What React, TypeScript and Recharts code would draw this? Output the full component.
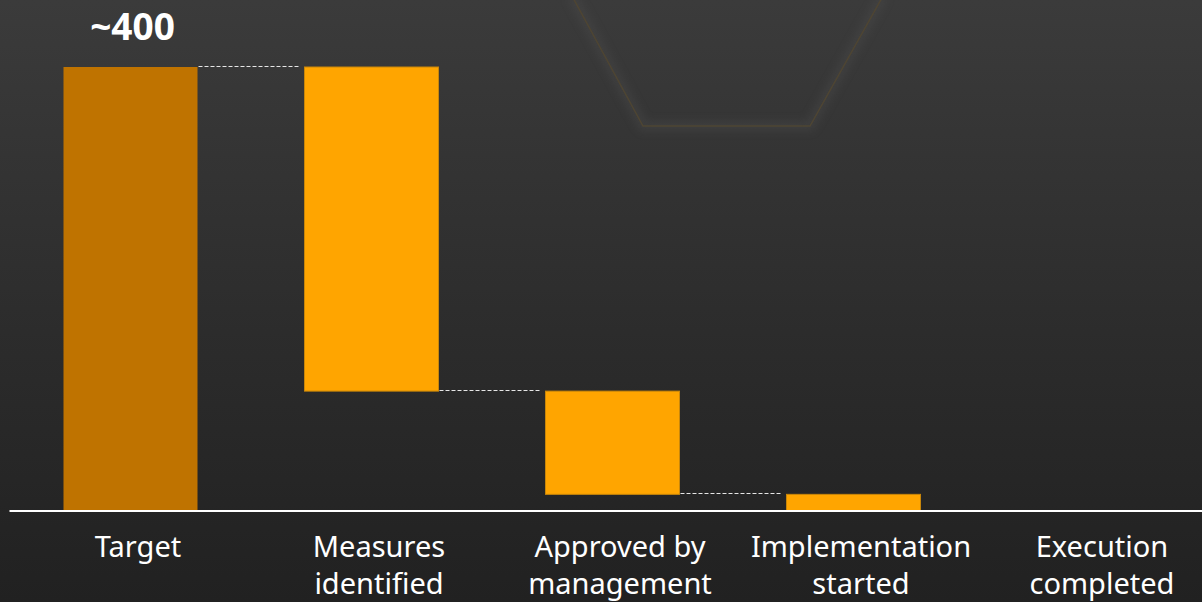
import React from 'react';
import { BarChart, Bar, XAxis, YAxis, LabelList } from 'recharts';

// ---- data ----
const categories = [
  'Target',
  'Measures\nidentified',
  'Approved by\nmanagement',
  'Implementation\nstarted',
  'Execution\ncompleted',
];
const barStart: (number | null)[] = [400, 400, 108, 15, null];
const barEnd: (number | null)[] = [0, 108, 15, 0, null];
const valueLabels = ['~400', '', '', '', ''];
const yTicks = [0, 400];

// ---- styles ----
const BAR_COLORS = ['#BF7300', '#FFA500', '#FFA500', '#FFA500', '#FFA500'];
const BAR_STROKES = ['none', '#C8860A', '#C8860A', '#C8860A', '#C8860A'];
const BAND = 241;
const BAR_SIZE = 134;
const FONT = '"Noto Sans", "Open Sans", sans-serif';

const data = categories.map((name, i) => ({
  name,
  range: barStart[i] == null ? null : [barEnd[i] as number, barStart[i] as number],
  next: i + 1 < barStart.length ? barStart[i + 1] : null,
  label: valueLabels[i],
}));

const WaterfallShape = (props: any) => {
  const { x, y, width, height, index, payload } = props;
  if (!payload || payload.range == null) return null;
  const top = Math.min(y, y + height);
  const h = Math.abs(height);
  const [low, high] = payload.range;
  let connector = null;
  if (payload.next != null && high !== low) {
    const lvl = Math.round(top + (h * (high - payload.next)) / (high - low)) - 0.5;
    connector = (
      <line
        x1={x + width + 1}
        x2={x + width + (BAND - width) - 6}
        y1={lvl}
        y2={lvl}
        stroke="#e6e6e6"
        strokeWidth={1}
        strokeDasharray="4 2"
      />
    );
  }
  return (
    <g>
      <rect
        x={x}
        y={top}
        width={width}
        height={h}
        fill={BAR_COLORS[index]}
        stroke={BAR_STROKES[index]}
        strokeWidth={1}
      />
      {connector}
    </g>
  );
};

const ValueLabel = (props: any) => {
  const { x, y, width, height, value } = props;
  if (!value) return null;
  const top = Math.min(y, y + height);
  return (
    <text
      x={x + width / 2 + 2}
      y={top - 27}
      textAnchor="middle"
      fill="#ffffff"
      fontFamily={FONT}
      fontWeight={700}
      fontSize={37}
    >
      {value}
    </text>
  );
};

const CategoryTick = (props: any) => {
  const { x, y, payload } = props;
  const lines = String(payload.value).split('\n');
  return (
    <text
      x={x + 8}
      y={y}
      textAnchor="middle"
      fill="#ffffff"
      fontFamily={FONT}
      fontSize={29}
    >
      {lines.map((l, i) => (
        <tspan key={i} x={x + 8} dy={i === 0 ? 40 : 37}>
          {l}
        </tspan>
      ))}
    </text>
  );
};

export default function App() {
  return (
    <div
      style={{
        position: 'fixed',
        left: 0,
        top: 0,
        width: 1202,
        height: 602,
        overflow: 'hidden',
        background: 'linear-gradient(to bottom, #3b3b3b 0%, #2c2c2c 55%, #212121 100%)',
      }}
    >
      <svg
        width={1202}
        height={602}
        style={{ position: 'absolute', left: 0, top: 0 }}
      >
        <defs>
          <filter id="glow" x="-20%" y="-20%" width="140%" height="140%">
            <feGaussianBlur stdDeviation="4" />
          </filter>
        </defs>
        <polyline
          points="572,-4 643,126 810,126 883,-4"
          fill="none"
          stroke="#505050"
          strokeWidth={10}
          opacity={0.35}
          filter="url(#glow)"
        />
        <polyline
          points="572,-4 643,126 810,126 883,-4"
          fill="none"
          stroke="#4e4533"
          strokeWidth={1.5}
        />
      </svg>
      <div style={{ position: 'absolute', left: 0, top: 0 }}>
        <BarChart
          width={1215}
          height={602}
          data={data}
          margin={{ top: 67, right: 0.5, bottom: 0, left: 9.5 }}
          barSize={BAR_SIZE}
        >
          <YAxis hide domain={[0, 400]} ticks={yTicks} />
          <XAxis
            dataKey="name"
            height={91}
            axisLine={{ stroke: '#ffffff', strokeWidth: 2 }}
            tickLine={false}
            tickMargin={0}
            interval={0}
            tick={<CategoryTick />}
          />
          <Bar dataKey="range" isAnimationActive={false} shape={<WaterfallShape />}>
            <LabelList dataKey="label" content={<ValueLabel />} />
          </Bar>
        </BarChart>
      </div>
    </div>
  );
}
